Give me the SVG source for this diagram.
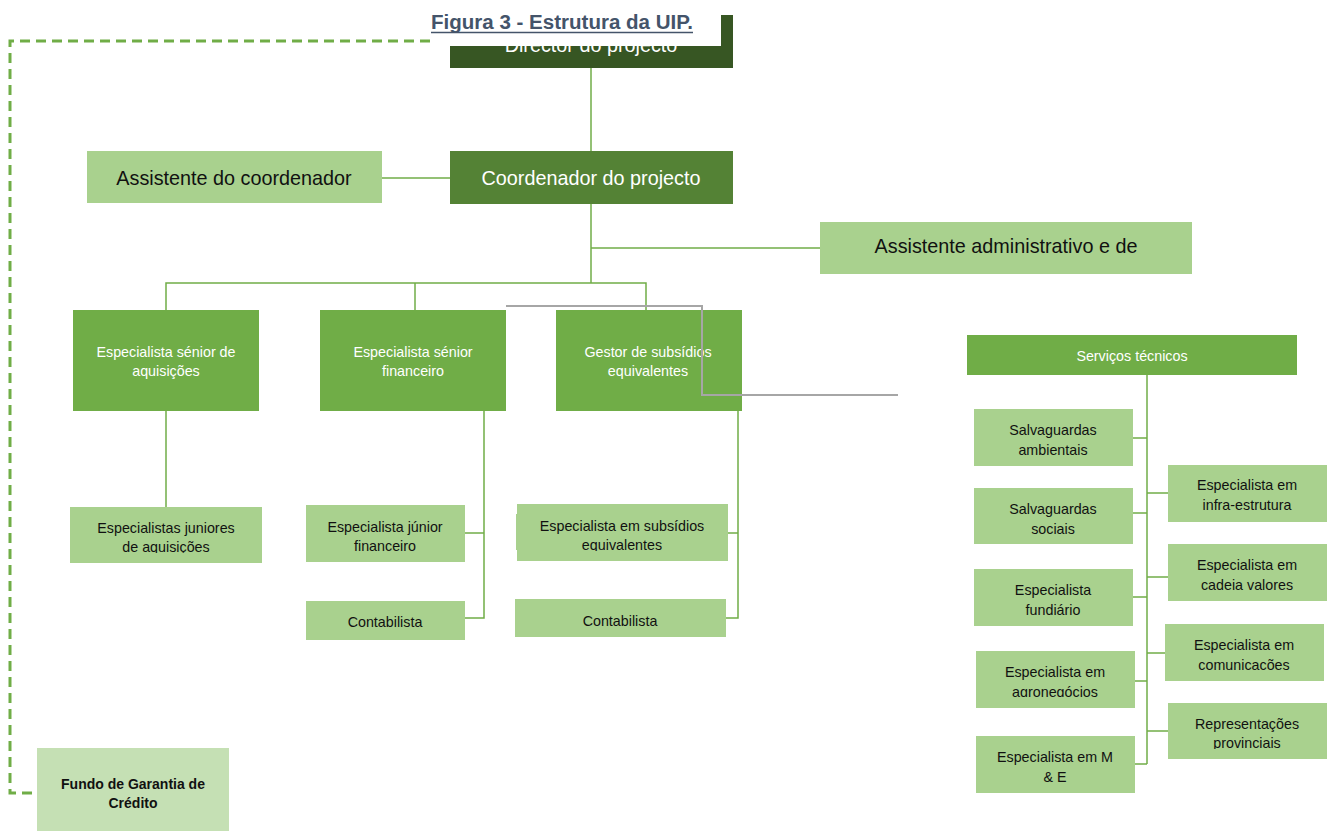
<svg xmlns="http://www.w3.org/2000/svg" width="1335" height="831" viewBox="0 0 1335 831">
  <style>
    .c { stroke: #70AD47; stroke-width: 1.5; fill: none; }
    .gray { stroke: #A6A6A6; stroke-width: 2; fill: none; }
    .dash { stroke: #70AD47; stroke-width: 3; fill: none; stroke-dasharray: 10 6; }
    .dark { fill: #375623; }
    .mid { fill: #548235; }
    .std { fill: #70AD47; }
    .light { fill: #A9D18E; }
    .pale { fill: #C5E0B4; }
    text { font-family: "Liberation Sans", Arial, sans-serif; text-anchor: middle; }
    .big { font-size: 19.8px; }
    .sm { font-size: 14.3px; }
    .w { fill: #FFFFFF; }
    .k { fill: #111111; }
  </style>
  <defs>
    <clipPath id="clipJunAq"><rect x="70" y="507" width="192" height="46"/></clipPath>
    <clipPath id="clipJunFin"><rect x="306" y="505" width="159" height="47"/></clipPath>
    <clipPath id="clipSubs"><rect x="517" y="504" width="211" height="47"/></clipPath>
    <clipPath id="clipAgro"><rect x="976" y="651" width="159" height="46"/></clipPath>
    <clipPath id="clipProv"><rect x="1168" y="703" width="159" height="46"/></clipPath>
  </defs>

  <rect width="1335" height="831" fill="#FFFFFF"/>

  <!-- connectors -->
  <g id="connectors">
    <path class="dash" d="M430 41 H10 V793 H37"/>
    <path class="c" d="M591 68 V151"/>
    <path class="c" d="M382 178 H450"/>
    <path class="c" d="M591 204 V283"/>
    <path class="c" d="M591 248 H820"/>
    <path class="c" d="M166 310 V283 H646 V310"/>
    <path class="c" d="M415 283 V310"/>
    <path class="c" d="M166 411 V507"/>
    <path class="c" d="M484 411 V618 H465"/>
    <path class="c" d="M484 533 H465"/>
    <path class="c" d="M738 411 V618 H726"/>
    <path class="c" d="M738 533 H728"/>
    <path class="c" d="M1147 375 V764"/>
    <path class="c" d="M1133 438 H1147"/>
    <path class="c" d="M1133 513 H1147"/>
    <path class="c" d="M1133 597 H1147"/>
    <path class="c" d="M1135 681 H1147"/>
    <path class="c" d="M1135 764 H1147"/>
    <path class="c" d="M1147 493 H1168"/>
    <path class="c" d="M1147 577 H1168"/>
    <path class="c" d="M1147 653 H1165"/>
    <path class="c" d="M1147 731 H1168"/>
  </g>

  <g id="director">
    <rect class="dark" x="450" y="15" width="283" height="53"/>
    <text class="big w" x="591" y="52">Director do projecto</text>
  </g>

  <g id="title">
    <rect x="430" y="0" width="291" height="46" fill="#FFFFFF"/>
    <text x="562" y="29" font-size="19.5" font-weight="bold" fill="#44546A" textLength="262" lengthAdjust="spacingAndGlyphs">Figura 3 - Estrutura da UIP.</text>
    <line x1="431" y1="32.5" x2="693" y2="32.5" stroke="#44546A" stroke-width="1.6"/>
  </g>

  <g id="coordenador">
    <rect class="mid" x="450" y="151" width="283" height="53"/>
    <text class="big w" x="591" y="185">Coordenador do projecto</text>
  </g>

  <g id="assistente-coordenador">
    <rect class="light" x="87" y="151" width="295" height="52"/>
    <text class="big k" x="234" y="185">Assistente do coordenador</text>
  </g>

  <g id="assistente-administrativo">
    <rect class="light" x="820" y="222" width="372" height="52"/>
    <text class="big k" x="1006" y="253">Assistente administrativo e de</text>
  </g>

  <g id="senior-aquisicoes">
    <rect class="std" x="73" y="310" width="186" height="101"/>
    <text class="sm w" x="166" y="357">Especialista sénior de</text>
    <text class="sm w" x="166" y="376">aquisições</text>
  </g>

  <g id="senior-financeiro">
    <rect class="std" x="320" y="310" width="186" height="101"/>
    <text class="sm w" x="413" y="357">Especialista sénior</text>
    <text class="sm w" x="413" y="376">financeiro</text>
  </g>

  <g id="gestor-subsidios">
    <rect class="std" x="556" y="310" width="186" height="101"/>
    <text class="sm w" x="648" y="357">Gestor de subsídios</text>
    <text class="sm w" x="648" y="376">equivalentes</text>
  </g>

  <!-- grey elbow line drawn over the Gestor box -->
  <g id="grey-link">
    <path class="gray" d="M506 306 H702 V395 H898"/>
  </g>

  <g id="juniores-aquisicoes">
    <rect class="light" x="70" y="507" width="192" height="56"/>
    <g clip-path="url(#clipJunAq)">
      <text class="sm k" x="166" y="533">Especialistas juniores</text>
      <text class="sm k" x="166" y="552">de aquisições</text>
    </g>
  </g>

  <g id="junior-financeiro">
    <rect class="light" x="306" y="505" width="159" height="57"/>
    <g clip-path="url(#clipJunFin)">
      <text class="sm k" x="385" y="532">Especialista júnior</text>
      <text class="sm k" x="385" y="551">financeiro</text>
    </g>
  </g>

  <g id="contabilista-1">
    <rect class="light" x="306" y="601" width="159" height="39"/>
    <text class="sm k" x="385" y="627">Contabilista</text>
  </g>

  <g id="especialista-subsidios">
    <rect class="light" x="516" y="514" width="4" height="36"/>
    <rect class="light" x="517" y="504" width="211" height="57"/>
    <g clip-path="url(#clipSubs)">
      <text class="sm k" x="622" y="531">Especialista em subsídios</text>
      <text class="sm k" x="622" y="550">equivalentes</text>
    </g>
  </g>

  <g id="contabilista-2">
    <rect class="light" x="515" y="599" width="211" height="38"/>
    <text class="sm k" x="620" y="626">Contabilista</text>
  </g>

  <g id="servicos-tecnicos">
    <rect class="std" x="967" y="335" width="330" height="40"/>
    <text class="sm w" x="1132" y="361">Serviços técnicos</text>
  </g>

  <g id="salvaguardas-ambientais">
    <rect class="light" x="974" y="409" width="159" height="57"/>
    <text class="sm k" x="1053" y="435">Salvaguardas</text>
    <text class="sm k" x="1053" y="455">ambientais</text>
  </g>

  <g id="salvaguardas-sociais">
    <rect class="light" x="974" y="488" width="159" height="56"/>
    <text class="sm k" x="1053" y="514">Salvaguardas</text>
    <text class="sm k" x="1053" y="534">sociais</text>
  </g>

  <g id="especialista-fundiario">
    <rect class="light" x="974" y="569" width="159" height="57"/>
    <text class="sm k" x="1053" y="595">Especialista</text>
    <text class="sm k" x="1053" y="615">fundiário</text>
  </g>

  <g id="especialista-agronegocios">
    <rect class="light" x="976" y="651" width="159" height="57"/>
    <g clip-path="url(#clipAgro)">
      <text class="sm k" x="1055" y="677">Especialista em</text>
      <text class="sm k" x="1055" y="697">agronegócios</text>
    </g>
  </g>

  <g id="especialista-me">
    <rect class="light" x="976" y="736" width="159" height="57"/>
    <text class="sm k" x="1055" y="762">Especialista em M</text>
    <text class="sm k" x="1055" y="782">&amp; E</text>
  </g>

  <g id="especialista-infra">
    <rect class="light" x="1168" y="465" width="159" height="57"/>
    <text class="sm k" x="1247" y="490">Especialista em</text>
    <text class="sm k" x="1247" y="510">infra-estrutura</text>
  </g>

  <g id="especialista-cadeia">
    <rect class="light" x="1168" y="544" width="159" height="57"/>
    <text class="sm k" x="1247" y="570">Especialista em</text>
    <text class="sm k" x="1247" y="590">cadeia valores</text>
  </g>

  <g id="especialista-comunicacoes">
    <rect class="light" x="1165" y="624" width="159" height="57"/>
    <text class="sm k" x="1244" y="650">Especialista em</text>
    <text class="sm k" x="1244" y="670">comunicacões</text>
  </g>

  <g id="representacoes-provinciais">
    <rect class="light" x="1168" y="703" width="159" height="56"/>
    <g clip-path="url(#clipProv)">
      <text class="sm k" x="1247" y="729">Representações</text>
      <text class="sm k" x="1247" y="748">provinciais</text>
    </g>
  </g>

  <g id="fundo-garantia">
    <rect class="pale" x="37" y="748" width="192" height="83"/>
    <text x="133" y="789" font-size="14" font-weight="bold" fill="#111111">Fundo de Garantia de</text>
    <text x="133" y="808" font-size="14" font-weight="bold" fill="#111111">Crédito</text>
  </g>
</svg>
